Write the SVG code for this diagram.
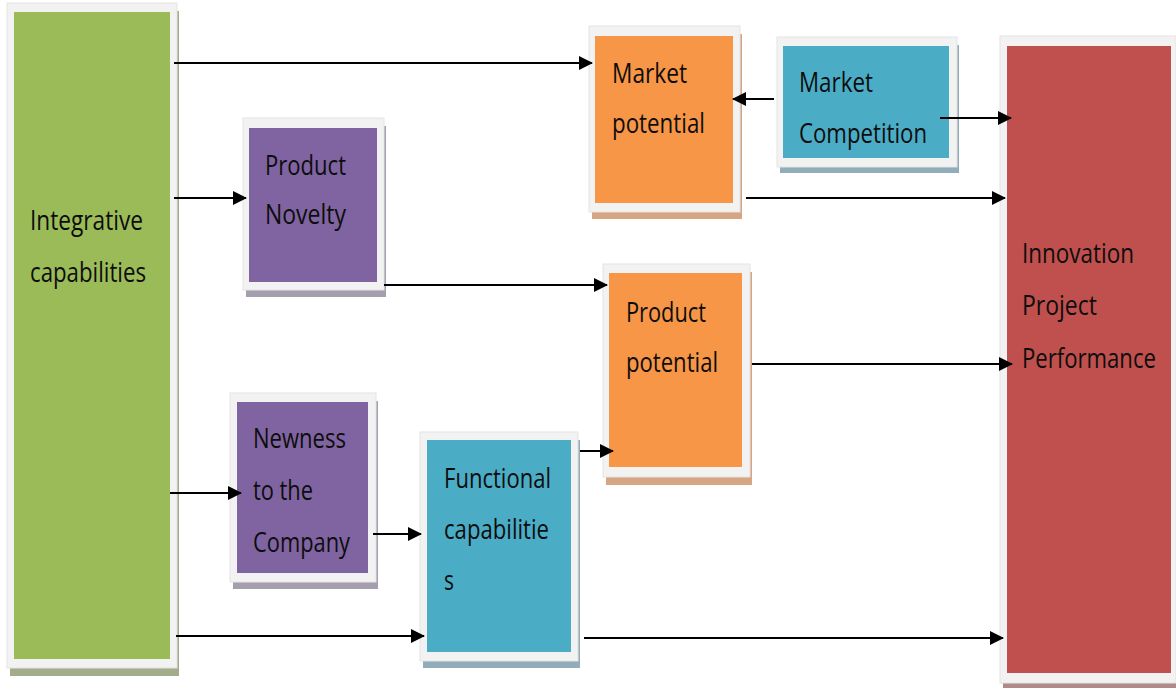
<svg xmlns="http://www.w3.org/2000/svg" width="1176" height="688" viewBox="0 0 1176 688">
<defs>
<marker id="ah" markerWidth="14" markerHeight="14" refX="13" refY="7" orient="auto" markerUnits="userSpaceOnUse">
<path d="M0,0 L14,7 L0,14 z" fill="#000"/>
</marker>
<style>
.frame{fill:#f2f2f2;stroke:#e4e4e4;stroke-width:1}
.t{font-family:"Open Sans","Liberation Sans",sans-serif;font-size:27px;fill:#0d0d0d;font-variant-ligatures:none}
.c{stroke:#000;stroke-width:2;fill:none;marker-end:url(#ah)}
.green{fill:#9bbb59}.orange{fill:#f79646}.blue{fill:#4bacc6}.purple{fill:#8064a2}.red{fill:#c0504d}
</style>
</defs>
<rect width="1176" height="688" fill="#fff"/>

<g id="integrative">
<rect x="10" y="11" width="169" height="665" fill="#a3ad8c"/>
<rect class="frame" x="7" y="3" width="170" height="665"/>
<rect class="green" x="14" y="12" width="156" height="647"/>
<text class="t" x="30" y="230" textLength="113" lengthAdjust="spacingAndGlyphs">Integrative</text>
<text class="t" x="30" y="282" textLength="116" lengthAdjust="spacingAndGlyphs">capabilities</text>
</g>

<g id="market-potential">
<rect x="592" y="34" width="150" height="185" fill="#d6a583"/>
<rect class="frame" x="589" y="26" width="151" height="186"/>
<rect class="orange" x="595" y="36" width="138" height="167"/>
<text class="t" x="612" y="83" textLength="75" lengthAdjust="spacingAndGlyphs">Market</text>
<text class="t" x="612" y="133" textLength="93" lengthAdjust="spacingAndGlyphs">potential</text>
</g>

<g id="market-competition">
<rect x="780" y="45" width="179" height="128" fill="#91adb9"/>
<rect class="frame" x="777" y="37" width="180" height="130"/>
<rect class="blue" x="783" y="46" width="166" height="112"/>
<text class="t" x="799" y="92" textLength="74" lengthAdjust="spacingAndGlyphs">Market</text>
<text class="t" x="799" y="143" textLength="128" lengthAdjust="spacingAndGlyphs">Competition</text>
</g>

<g id="product-novelty">
<rect x="246" y="126" width="140" height="171" fill="#a59fad"/>
<rect class="frame" x="243" y="118" width="141" height="172"/>
<rect class="purple" x="249" y="128" width="128" height="154"/>
<text class="t" x="265" y="175" textLength="81" lengthAdjust="spacingAndGlyphs">Product</text>
<text class="t" x="265" y="224" textLength="81" lengthAdjust="spacingAndGlyphs">Novelty</text>
</g>

<g id="product-potential">
<rect x="606" y="272" width="146" height="213" fill="#d6a583"/>
<rect class="frame" x="603" y="264" width="147" height="213"/>
<rect class="orange" x="609" y="273" width="133" height="194"/>
<text class="t" x="626" y="322" textLength="80" lengthAdjust="spacingAndGlyphs">Product</text>
<text class="t" x="626" y="372" textLength="92" lengthAdjust="spacingAndGlyphs">potential</text>
</g>

<g id="newness">
<rect x="233" y="401" width="145" height="188" fill="#a59fad"/>
<rect class="frame" x="230" y="393" width="146" height="189"/>
<rect class="purple" x="237" y="402" width="131" height="171"/>
<text class="t" x="253" y="448" textLength="93" lengthAdjust="spacingAndGlyphs">Newness</text>
<text class="t" x="253" y="500" textLength="60" lengthAdjust="spacingAndGlyphs">to the</text>
<text class="t" x="253" y="552" textLength="97" lengthAdjust="spacingAndGlyphs">Company</text>
</g>

<g id="functional">
<rect x="423" y="440" width="157" height="228" fill="#91adb9"/>
<rect class="frame" x="420" y="432" width="158" height="229"/>
<rect class="blue" x="427" y="440" width="144" height="212"/>
<text class="t" x="444" y="488" textLength="107" lengthAdjust="spacingAndGlyphs">Functional</text>
<text class="t" x="444" y="539" textLength="105" lengthAdjust="spacingAndGlyphs">capabilitie</text>
<text class="t" x="444" y="590" textLength="10" lengthAdjust="spacingAndGlyphs">s</text>
</g>

<g id="innovation">
<rect x="1003" y="44" width="175" height="646" fill="#b08a88"/>
<rect class="frame" x="1000" y="36" width="176" height="647"/>
<rect class="red" x="1007" y="46" width="164" height="627"/>
<text class="t" x="1022" y="263" textLength="112" lengthAdjust="spacingAndGlyphs">Innovation</text>
<text class="t" x="1022" y="315" textLength="75" lengthAdjust="spacingAndGlyphs">Project</text>
<text class="t" transform="translate(1022,368) scale(0.82,1)" x="0" y="0">Performance</text>
</g>

<g id="connectors">
<line class="c" x1="174" y1="63" x2="592" y2="63"/>
<line class="c" x1="174" y1="198" x2="246" y2="198"/>
<line class="c" x1="774" y1="99" x2="733" y2="99"/>
<line class="c" x1="940" y1="118" x2="1011" y2="118"/>
<line class="c" x1="746" y1="198" x2="1005" y2="198"/>
<line class="c" x1="384" y1="285" x2="607" y2="285"/>
<line class="c" x1="752" y1="364" x2="1012" y2="364"/>
<line class="c" x1="170" y1="493" x2="241" y2="493"/>
<line class="c" x1="373" y1="534" x2="421" y2="534"/>
<line class="c" x1="580" y1="451" x2="613" y2="451"/>
<line class="c" x1="176" y1="636" x2="424" y2="636"/>
<line class="c" x1="584" y1="638" x2="1003" y2="638"/>
</g>
</svg>
